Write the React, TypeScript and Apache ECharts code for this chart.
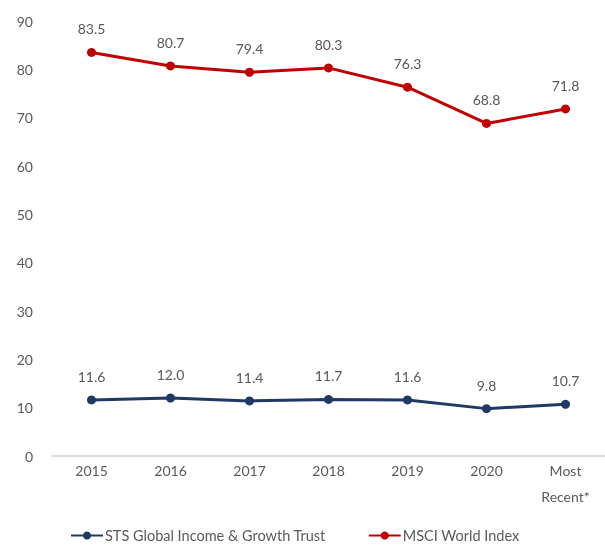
import React, { useEffect, useRef } from "react";
import * as echarts from "echarts";

const categories = ["2015", "2016", "2017", "2018", "2019", "2020", "Most\nRecent*"];
const stsValues = [11.6, 12.0, 11.4, 11.7, 11.6, 9.8, 10.7];
const msciValues = [83.5, 80.7, 79.4, 80.3, 76.3, 68.8, 71.8];
const seriesNames = ["STS Global Income & Growth Trust", "MSCI World Index"];

const FONT = "Lato, 'Open Sans', sans-serif";
const GRAY = "#595959";

export default function App() {
  const ref = useRef<HTMLDivElement>(null);
  useEffect(() => {
    if (!ref.current) return;
    const chart = echarts.init(ref.current, undefined, { renderer: "svg" });
    const labelCfg = {
      show: true,
      position: "top" as const,
      distance: 12,
      color: GRAY,
      fontSize: 14,
      fontFamily: FONT,
      formatter: (p: any) => Number(p.value).toFixed(1),
    };
    chart.setOption({
      animation: false,
      textStyle: { fontFamily: FONT },
      grid: { left: 52, width: 556, top: 21, bottom: 92 },
      legend: {
        bottom: 5,
        left: 70,
        padding: 0,
        itemWidth: 32,
        itemHeight: 10,
        itemGap: 42,
        textStyle: { color: GRAY, fontSize: 14.5, fontFamily: FONT, padding: [0, 0, 0, -3] },
        data: seriesNames,
      },
      xAxis: {
        type: "category",
        data: categories,
        axisLine: { lineStyle: { color: "#d9d9d9", width: 2 } },
        axisTick: { show: false },
        axisLabel: { color: GRAY, fontSize: 14, fontFamily: FONT, margin: 1, lineHeight: 26 },
      },
      yAxis: {
        type: "value",
        min: 0,
        max: 90,
        interval: 10,
        axisLine: { show: false },
        axisTick: { show: false },
        splitLine: { show: false },
        axisLabel: { color: GRAY, fontSize: 14, fontFamily: FONT, margin: 19 },
      },
      series: [
        {
          name: seriesNames[0],
          type: "line",
          data: stsValues,
          color: "#1F3864",
          lineStyle: { width: 3 },
          symbol: "circle",
          symbolSize: 9,
          label: labelCfg,
        },
        {
          name: seriesNames[1],
          type: "line",
          data: msciValues,
          color: "#C00000",
          lineStyle: { width: 3 },
          symbol: "circle",
          symbolSize: 9,
          label: labelCfg,
        },
      ],
    });
    return () => chart.dispose();
  }, []);
  return <div ref={ref} style={{ width: 605, height: 548, position: "fixed", left: 0, top: 0 }} />;
}
